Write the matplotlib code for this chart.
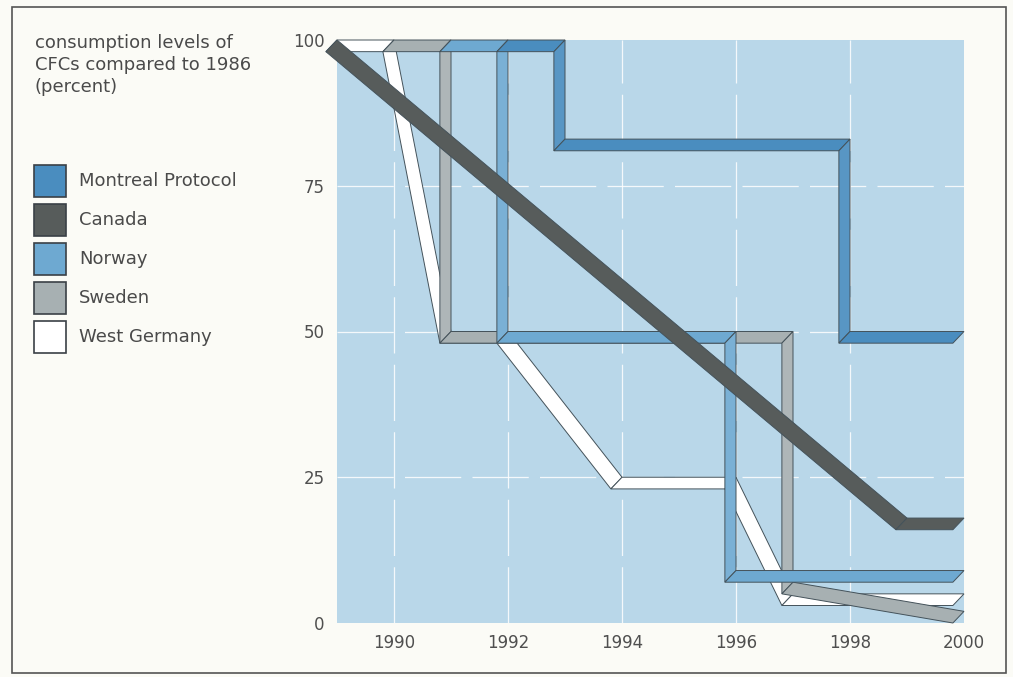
import matplotlib
matplotlib.use("Agg")
import matplotlib.pyplot as plt
from matplotlib.patches import Polygon, Rectangle
from matplotlib.colors import to_rgb

plt.rcParams['font.family'] = ['DejaVu Sans']

# ---- data: CFC consumption relative to 1986 (percent) ----
montreal_years = [1992, 1993, 1993, 1998, 1998, 2000]
montreal_vals = [100, 100, 83, 83, 50, 50]

canada_years = [1989, 1999, 2000]
canada_vals = [100, 18, 18]

norway_years = [1991, 1992, 1992, 1996, 1996, 2000]
norway_vals = [100, 100, 50, 50, 9, 9]

sweden_years = [1990, 1991, 1991, 1997, 1997, 2000]
sweden_vals = [100, 100, 50, 50, 7, 2]

wgermany_years = [1989, 1990, 1991, 1992, 1994, 1996, 1997, 2000]
wgermany_vals = [100, 100, 50, 50, 25, 25, 5, 5]

series_names = ["Montreal Protocol", "Canada", "Norway", "Sweden", "West Germany"]
series_colors = ["#4a8dbf", "#575c5b", "#6ea9d1", "#a7b0b2", "#ffffff"]

x_ticks = [1990, 1992, 1994, 1996, 1998, 2000]
y_ticks = [0, 25, 50, 75, 100]

title_lines = ["consumption levels of", "CFCs compared to 1986", "(percent)"]

# ---- figure ----
W, H = 1013, 677
fig = plt.figure(figsize=(W / 100, H / 100), dpi=100, facecolor="#fbfbf6")
ax = fig.add_axes([337 / W, 1 - 623 / H, (964 - 337) / W, (623 - 40) / H])
ax.set_facecolor("#b9d7e9")
ax.set_xlim(1989, 2000)
ax.set_ylim(0, 100)
for s in ax.spines.values():
    s.set_visible(False)

ax.set_xticks(x_ticks)
ax.set_yticks(y_ticks)
ax.tick_params(length=0, labelsize=12, labelcolor="#4f4f4f")
ax.tick_params(axis="x", pad=8)
ax.tick_params(axis="y", pad=9)

# dashed white grid
for x in x_ticks[:-1]:
    ax.axvline(x, color="white", lw=0.9, alpha=0.85, ls=(0, (45, 9)), zorder=0.5)
for y in [25, 50, 75]:
    ax.axhline(y, color="white", lw=0.9, alpha=0.85, ls=(0, (45, 9)), zorder=0.5)

# depth of the ribbons, in data units (front face sits down-left of the value line)
DX, DY = -0.195, -2.0


def shade(color, f):
    r, g, b = to_rgb(color)
    if f >= 1:
        return tuple(c + (1 - c) * (f - 1) for c in (r, g, b))
    return tuple(c * f for c in (r, g, b))


def ribbon(xs, ys, color, z):
    for i in range(len(xs) - 1):
        x0, y0, x1, y1 = xs[i], ys[i], xs[i + 1], ys[i + 1]
        face = shade(color, 1.08) if x0 == x1 else color
        poly = Polygon(
            [(x0, y0), (x1, y1), (x1 + DX, y1 + DY), (x0 + DX, y0 + DY)],
            closed=True, facecolor=face, edgecolor="#44525a", lw=0.7,
            joinstyle="miter", clip_on=False, zorder=z,
        )
        ax.add_patch(poly)


ribbon(wgermany_years, wgermany_vals, series_colors[4], 2)
ribbon(sweden_years, sweden_vals, series_colors[3], 3)
ribbon(norway_years, norway_vals, series_colors[2], 4)
ribbon(montreal_years, montreal_vals, series_colors[0], 5)
ribbon(canada_years, canada_vals, series_colors[1], 6)

# ---- title and legend on the left ----
txt_color = "#4a4a4a"
for i, line in enumerate(title_lines):
    fig.text(35 / W, 1 - (43 + 22 * i) / H, line, fontsize=13, color=txt_color,
             ha="left", va="center")

for i, (name, col) in enumerate(zip(series_names, series_colors)):
    top = 165 + 39 * i
    fig.add_artist(Rectangle((34 / W, 1 - (top + 32) / H), 32 / W, 32 / H,
                             facecolor=col, edgecolor="#3a4046", lw=1.2,
                             transform=fig.transFigure))
    fig.text(79 / W, 1 - (top + 16) / H, name, fontsize=13, color=txt_color,
             ha="left", va="center")

# outer frame
fig.add_artist(Rectangle((12 / W, 1 - 673 / H), (1006 - 12) / W, (673 - 7) / H,
                         fill=False, edgecolor="#555555", lw=1.2,
                         transform=fig.transFigure))

fig.savefig("out.png", dpi=100, facecolor=fig.get_facecolor())
